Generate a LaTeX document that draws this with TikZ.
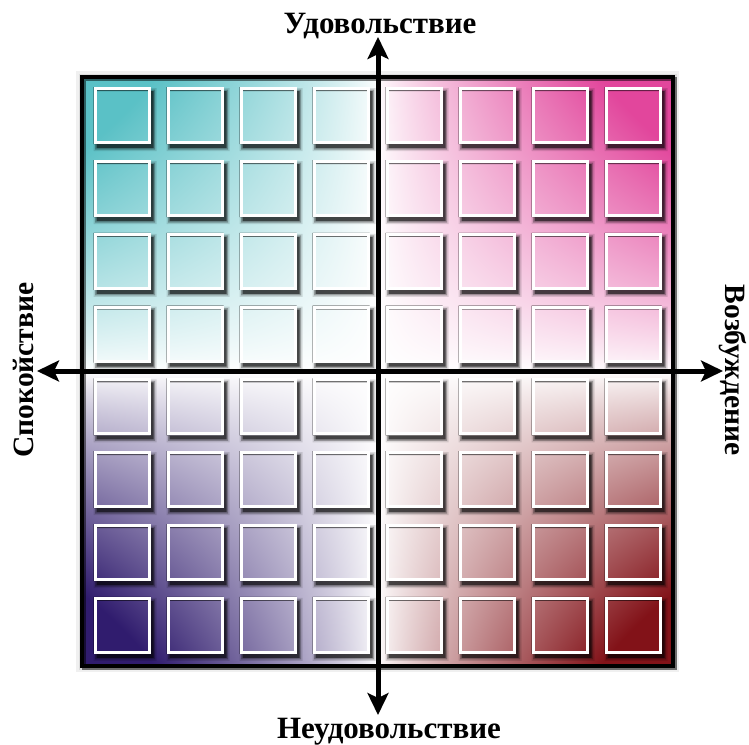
\documentclass[tikz,border=0pt]{standalone}
\usepackage{fontspec}
\setmainfont{Liberation Serif}
\usetikzlibrary{arrows.meta}
\def\Fw{0.0001 add 0.8 exp 1.25 mul dup 1 exch sub abs sub 1 add 2 div }
\pgfdeclarefunctionalshading{quad}{\pgfpoint{0bp}{0bp}}{\pgfpoint{100bp}{100bp}}{}{
  50 sub 25 div exch 50 sub 25 div exch
  dup abs 2 copy add 2 div 3 1 roll exch sub 2 div
  3 -1 roll
  dup abs 2 copy add 2 div 3 1 roll exch sub 2 div
  3 index 1 index mul \Fw
  4 index 3 index mul \Fw
  4 index 3 index mul \Fw
  5 index 5 index mul \Fw
  8 4 roll pop pop pop pop
  1 4 index -0.647 mul add 3 index -0.114 mul add 2 index -0.812 mul add 1 index -0.490 mul add
  1 5 index -0.243 mul add 4 index -0.725 mul add 3 index -0.890 mul add 2 index -0.929 mul add
  1 6 index -0.224 mul add 5 index -0.388 mul add 4 index -0.569 mul add 3 index -0.906 mul add
  7 3 roll pop pop pop pop
}
\tikzset{
  axisline/.style={line width=5pt, black, {Stealth[length=22pt,width=21pt,inset=5pt]}-{Stealth[length=22pt,width=21pt,inset=5pt]}},
  axislabel/.style={font=\bfseries\fontsize{31}{36}\selectfont, inner sep=0pt, anchor=base},
  sidelabel/.style={font=\bfseries\fontsize{29.5}{36}\selectfont, inner sep=0pt, anchor=base},
  sqborder/.style={white, line width=3pt},
}
\begin{document}
\begin{tikzpicture}[x=1pt,y=-1pt]
\useasboundingbox (0,0) rectangle (749,744);
% faint glow of the frame
\draw[black, opacity=0.06, line width=12pt] (82,77) rectangle (673,666);
\draw[black, opacity=0.08, line width=7pt] (82,77) rectangle (673,666);
% background gradient
\shade[shading=quad] (82,77) rectangle (673,666);
% frame shadow and frame
\draw[black, opacity=0.5, line width=4pt] (84,79) rectangle (675,668);
\draw[black, line width=4pt] (82,77) rectangle (673,666);
% squares
\foreach \i in {0,...,7} {
  \foreach \j in {0,...,7} {
    \pgfmathsetmacro\cx{377.5+73*(\i-3.5)}
    \pgfmathsetmacro\cy{370.5+72.8*(\j-3.5)}
    \fill[black, opacity=0.12, even odd rule] (\cx-28.5,\cy-28.5+1) rectangle (\cx+28.5+6,\cy+28.5+7) (\cx-28.5,\cy-28.5) rectangle (\cx+28.5,\cy+28.5);
    \fill[black, opacity=0.28, even odd rule] (\cx-28.5+1.5,\cy-28.5+2.5) rectangle (\cx+28.5+4.5,\cy+28.5+5.5) (\cx-28.5,\cy-28.5) rectangle (\cx+28.5,\cy+28.5);
    \fill[black, opacity=0.55, even odd rule] (\cx-28.5+3,\cy-28.5+4) rectangle (\cx+28.5+3,\cy+28.5+4) (\cx-28.5,\cy-28.5) rectangle (\cx+28.5,\cy+28.5);
    \draw[sqborder] (\cx-27,\cy-27) rectangle (\cx+27,\cy+27);
  }
}
% axes
\coordinate (top) at (378,37);
\coordinate (bottom) at (378,715);
\coordinate (left) at (37,371);
\coordinate (right) at (723,371);
\draw[axisline] (bottom) -- (top);
\draw[axisline] (left) -- (right);
% labels
\node[axislabel] (pleasure) at (380,33) {Удовольствие};
\node[axislabel] (displeasure) at (389,738) {Неудовольствие};
\node[sidelabel, rotate=90] (calm) at (33,370) {Спокойствие};
\node[sidelabel, rotate=-90] (arousal) at (725,370) {Возбуждение};
\end{tikzpicture}
\end{document}
